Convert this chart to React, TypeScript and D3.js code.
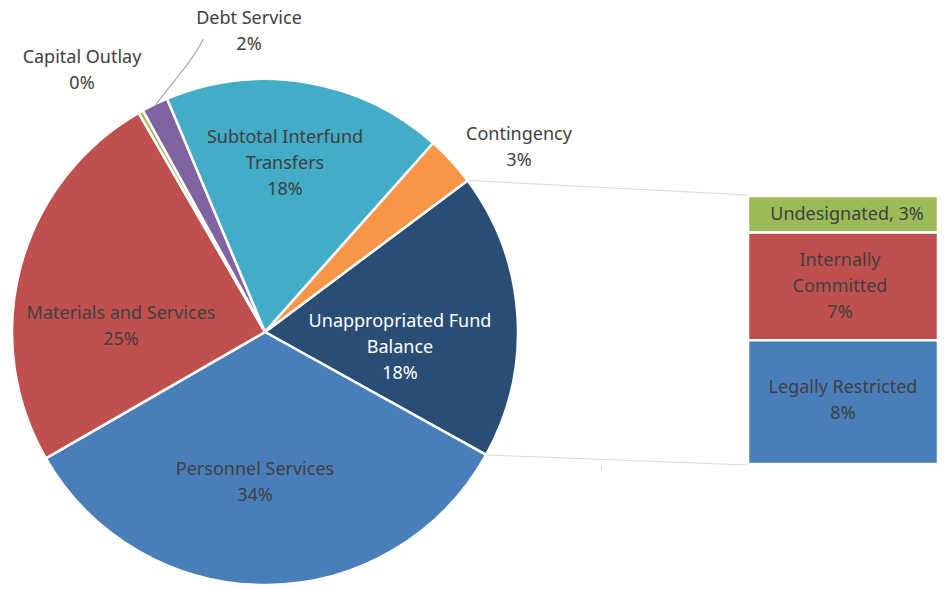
import * as d3 from 'd3';

// pie slices, clockwise starting with the combined "other" slice
const pieNames = ['Unappropriated Fund Balance', 'Personnel Services', 'Materials and Services', 'Capital Outlay', 'Debt Service', 'Subtotal Interfund Transfers', 'Contingency'];
const pieColors = ['#2A4D75', '#4A7EBB', '#C0504D', '#9BBB59', '#8064A2', '#43ACC7', '#F79646'];
const pieValues = [null, 33.6, 25.0, 0.3, 1.7, 17.9, 3.2];

// bar of the split slice, top to bottom
const barNames = ['Undesignated', 'Internally Committed', 'Legally Restricted'];
const barColors = ['#9BBB59', '#C0504D', '#4A7EBB'];
const barValues = [2.5, 7.35, 8.45];

const otherTotal = d3.sum(barValues);

// label text lines and anchor spots (layout only)
const pieLabelLines = [
  ['Unappropriated Fund', 'Balance'],
  ['Personnel Services'],
  ['Materials and Services'],
  ['Capital Outlay'],
  ['Debt Service'],
  ['Subtotal Interfund', 'Transfers'],
  ['Contingency'],
];
const pieLabelPos = [[400, 320], [255, 468], [121, 312], [82, 56], [249, 17], [285, 136], [519, 133]];
const barLabelLines = [['Undesignated, 3%'], ['Internally', 'Committed'], ['Legally Restricted']];

const W = 945, H = 589;
const cx = 265, cy = 332, R = 253;
const startDeg = 53.2;
const barX = 748, barW = 190, barTop = 196, barBottom = 464;
const textCol = '#404040';
const font = '"Noto Sans", sans-serif';
const fs = 18;
const lineH = 26;

export default function App() {
  const vals = pieValues.map((v, i) => (i === 0 ? otherTotal : (v as number)));
  const pie = d3.pie<number>().sort(null).value(d => d)
    .startAngle(startDeg * Math.PI / 180)
    .endAngle(startDeg * Math.PI / 180 + 2 * Math.PI);
  const arcs = pie(vals);
  const arc = d3.arc<d3.PieArcDatum<number>>().innerRadius(0).outerRadius(R);
  const total = d3.sum(vals);

  const yScale = d3.scaleLinear().domain([0, otherTotal]).range([barTop, barBottom]);
  const cum = barValues.map((_, i) => d3.sum(barValues.slice(0, i)));

  const other = arcs[0];
  const pt = (a: number) => [cx + R * Math.sin(a), cy - R * Math.cos(a)];
  const [x1, y1] = pt(other.startAngle);
  const [x2, y2] = pt(other.endAngle);

  const debt = arcs[4];
  const debtMid = (debt.startAngle + debt.endAngle) / 2;
  const [dx, dy] = [cx + (R - 1) * Math.sin(debtMid), cy - (R - 1) * Math.cos(debtMid)];

  const pct = (v: number) => `${Math.round(v / total * 100)}%`;

  return (
    <svg width={W} height={H} style={{ position: 'absolute', left: 0, top: 0 }} fontFamily={font}>
      <rect width={W} height={H} fill="#fff" />
      <line x1={x1} y1={y1} x2={barX} y2={barTop - 1} stroke="#d9d9d9" strokeWidth={1} />
      <line x1={x2} y1={y2} x2={barX} y2={barBottom + 1} stroke="#d9d9d9" strokeWidth={1} />
      <line x1={601.5} y1={466} x2={601.5} y2={471} stroke="#d9d9d9" strokeWidth={1} />
      <g transform={`translate(${cx},${cy})`}>
        {arcs.map((a, i) => (
          <path key={pieNames[i]} d={arc(a) || ''} fill={pieColors[i]} stroke="#fff" strokeWidth={2.5} strokeLinejoin="round" />
        ))}
      </g>
      <path d={`M${dx},${dy} L${dx + 30},${dy - 38} Q${dx + 42},${dy - 54} ${dx + 48},${dy - 66}`} fill="none" stroke="#a6a6a6" strokeWidth={1.2} />
      {barValues.map((v, i) => (
        <rect key={barNames[i]} x={barX} y={yScale(cum[i])} width={barW} height={yScale(v) - yScale(0)}
          fill={barColors[i]} stroke="#fff" strokeWidth={2.5} />
      ))}
      {arcs.map((a, i) => {
        const lines = [...pieLabelLines[i], pct(a.value)];
        const [lx, ly] = pieLabelPos[i];
        return (
          <text key={pieNames[i]} textAnchor="middle" fontSize={fs} fill={i === 0 ? '#fff' : textCol}>
            {lines.map((l, j) => (
              <tspan key={j} x={lx} y={ly + j * lineH} dominantBaseline="central">{l}</tspan>
            ))}
          </text>
        );
      })}
      {barValues.map((v, i) => {
        const lines = i === 0 ? barLabelLines[i] : [...barLabelLines[i], pct(v)];
        const top = [213, 259, 386][i];
        const lx = [847, 840, 843][i];
        return (
          <text key={barNames[i]} textAnchor="middle" fontSize={fs} fill={textCol}>
            {lines.map((l, j) => (
              <tspan key={j} x={lx} y={top + j * lineH} dominantBaseline="central">{l}</tspan>
            ))}
          </text>
        );
      })}
    </svg>
  );
}
